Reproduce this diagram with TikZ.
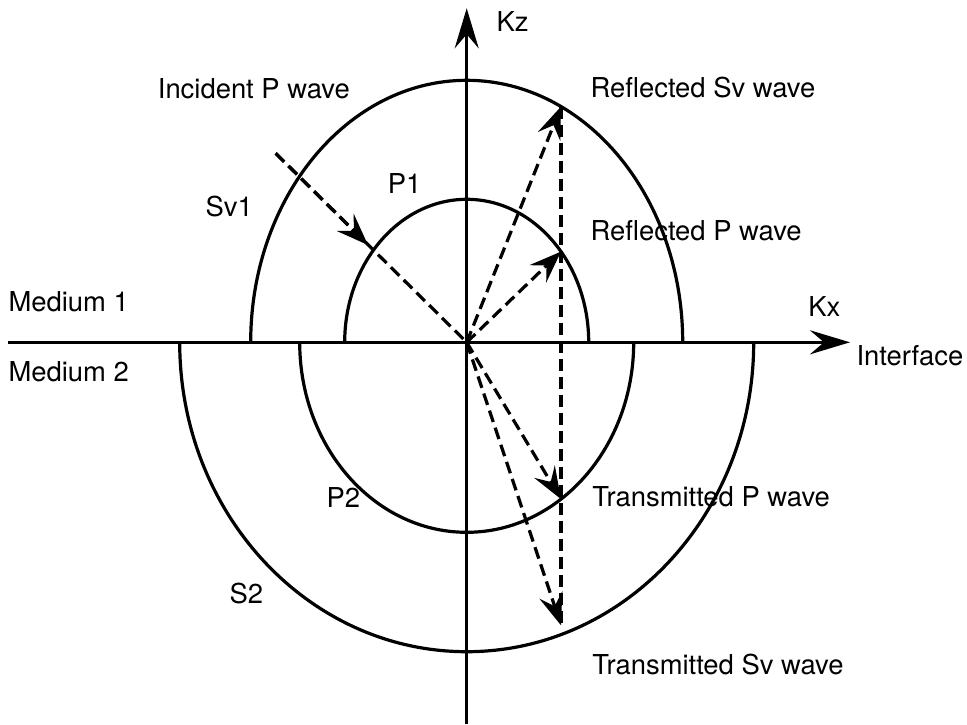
\documentclass[tikz,border=0pt]{standalone}
\usepackage{fontspec}
\setmainfont{TeX Gyre Heros}
\usetikzlibrary{arrows.meta,positioning}

\begin{document}
\begin{tikzpicture}[x=0.5pt,y=0.5pt,line width=1.6pt,
        axis/.style={-{Stealth[length=20pt,width=12pt,inset=7pt]}},
        wave/.style={dash pattern=on 6pt off 3pt},
        ray/.style={wave,-{Stealth[length=16pt,width=12pt,inset=6pt]}},
        lbl/.style={anchor=base west,inner sep=0pt,font=\fontsize{13.7}{16}\selectfont}]
        \useasboundingbox (-466.7,-381.7) rectangle (500.3,342.3);
        \coordinate (O) at (0,0);
        \coordinate (kztip) at (0,334);
        \coordinate (kzend) at (0,-382);
        \coordinate (kxtip) at (383.3,0);
        \coordinate (kxend) at (-458.7,0);
        \coordinate (sv1w) at (-216,0);
        \coordinate (p1w) at (-122,0);
        \coordinate (p2w) at (-167,0);
        \coordinate (s2w) at (-287,0);
        \coordinate (rsv) at (94.3,235.7);
        \coordinate (rp) at (94.3,90.7);
        \coordinate (tp) at (94.3,-156.8);
        \coordinate (tsv) at (94.3,-283);
        \coordinate (inc) at (-191,189);
        \coordinate (inctip) at (-98.7,97.3);
        \draw [axis] (kzend) -- (kztip);
        \draw [axis] (kxend) -- (kxtip);
        \draw (sv1w) arc [start angle=180,end angle=0,x radius=216,y radius=262];
        \draw (p1w) arc [start angle=180,end angle=0,x radius=122,y radius=143];
        \draw (p2w) arc [start angle=180,end angle=360,x radius=167,y radius=190];
        \draw (s2w) arc [start angle=180,end angle=360,x radius=287,y radius=309.4];
        \draw [wave] (inc) -- (O);
        \draw [ray] (inc) -- (inctip);
        \draw [ray] (O) -- (rsv);
        \draw [ray] (O) -- (rp);
        \draw [ray] (O) -- (tp);
        \draw [ray] (O) -- (tsv);
        \draw [wave] (rsv) -- (tsv);
        \node [lbl] (kzlabel) at (28.3,310.6) {Kz};
        \node [lbl] (kxlabel) at (340,25.6) {Kx};
        \node [lbl] (interface) at (388.3,-22.7) {Interface};
        \node [lbl] (rsvlabel) at (122.3,245.3) {Reflected Sv wave};
        \node [lbl] (rplabel) at (122.3,102.3) {Reflected P wave};
        \node [lbl] (tplabel) at (124,-164.4) {Transmitted P wave};
        \node [lbl] (tsvlabel) at (124,-331.7) {Transmitted Sv wave};
        \node [lbl] (inclabel) at (-310.4,244.3) {Incident P wave};
        \node [lbl] (sv1label) at (-262.7,125.6) {Sv1};
        \node [lbl] (p1label) at (-80.4,149.3) {P1};
        \node [lbl] (med1) at (-459.7,30.6) {Medium 1};
        \node [lbl] (med2) at (-459.7,-39.4) {Medium 2};
        \node [lbl] (p2label) at (-141.7,-164.7) {P2};
        \node [lbl] (s2label) at (-238.7,-260.7) {S2};
\end{tikzpicture}
\end{document}
